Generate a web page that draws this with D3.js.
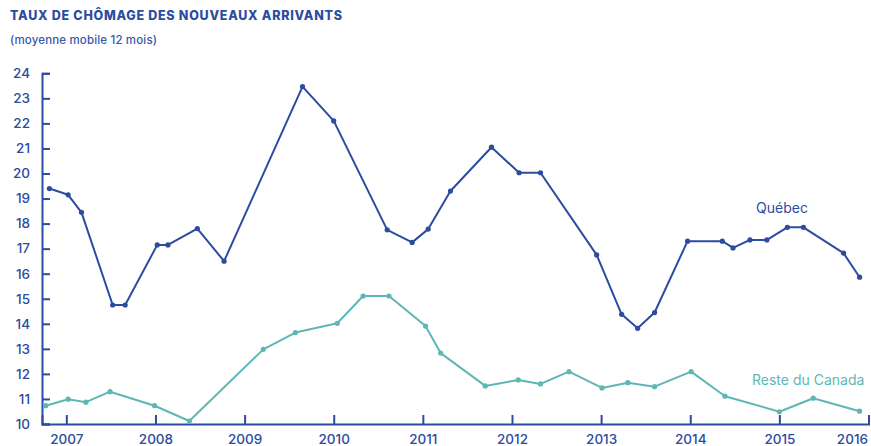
<!DOCTYPE html>
<html><head><meta charset="utf-8">
<script src="https://cdn.jsdelivr.net/npm/d3@7"></script>
<style>
html,body{margin:0;padding:0;background:#fff;}
svg{display:block;font-family:Inter,"Noto Sans",sans-serif;}
</style></head>
<body>
<svg id="chart" width="871" height="446"></svg>
<script>
const title = "TAUX DE CHÔMAGE DES NOUVEAUX ARRIVANTS";
const subtitle = "(moyenne mobile 12 mois)";
const yearTicks = [2007,2008,2009,2010,2011,2012,2013,2014,2015,2016];
const valueTicks = [10,11,12,13,14,15,16,17,18,19,20,21,22,23,24];

const quebecDates = [2006.81,2007.02,2007.17,2007.52,2007.66,2008.02,2008.14,2008.47,2008.77,2009.65,2010.0,2010.6,2010.88,2011.06,2011.31,2011.77,2012.08,2012.32,2012.95,2013.23,2013.41,2013.6,2013.97,2014.36,2014.48,2014.67,2014.86,2015.09,2015.27,2015.72,2015.9];
const quebecValues = [19.4,19.15,18.45,14.75,14.75,17.15,17.15,17.8,16.5,23.47,22.1,17.75,17.25,17.78,19.3,21.05,20.03,20.03,16.75,14.38,13.82,14.45,17.3,17.3,17.03,17.35,17.35,17.85,17.85,16.82,15.86];

const restDates = [2006.77,2007.02,2007.22,2007.49,2007.99,2008.38,2009.21,2009.57,2010.04,2010.33,2010.62,2011.03,2011.2,2011.7,2012.07,2012.32,2012.64,2013.01,2013.3,2013.6,2014.01,2014.39,2015.0,2015.38,2015.9];
const restValues = [10.73,10.99,10.87,11.29,10.73,10.12,12.98,13.65,14.02,15.11,15.11,13.91,12.83,11.52,11.76,11.6,12.09,11.44,11.65,11.49,12.09,11.11,10.49,11.03,10.51];

const seriesNames = ["Québec","Reste du Canada"];

const navy = "#2b4c9f";
const teal = "#5fb7b5";

const svg = d3.select("#chart");

const x = d3.scaleLinear().domain([2006.727, 2016]).range([42, 868.5]);
const y = d3.scaleLinear().domain([10, 24]).range([424, 73.3]);

svg.append("text").attr("x", 10).attr("y", 20)
  .attr("fill", navy).attr("font-size", 12.5).attr("font-weight", 800)
  .attr("textLength", 332).attr("lengthAdjust", "spacing")
  .text(title);
svg.append("text").attr("x", 10).attr("y", 44)
  .attr("fill", "#3557b0").attr("font-size", 11.5).attr("font-weight", 500)
  .attr("textLength", 147).attr("lengthAdjust", "spacing")
  .text(subtitle);

// Y axis
const yAxis = svg.append("g").attr("transform", "translate(42,0)")
  .call(d3.axisRight(y).tickValues(valueTicks).tickSize(8).tickFormat(d3.format("d")));
yAxis.select(".domain").attr("stroke", navy).attr("stroke-width", 2);
yAxis.selectAll(".tick line").attr("stroke", navy).attr("stroke-width", 2);
yAxis.selectAll(".tick text").attr("x", -12).attr("text-anchor", "end")
  .attr("fill", navy).attr("font-size", 13.5).attr("font-weight", 500)
  .attr("font-family", "Inter,sans-serif");

// X axis
const xAxis = svg.append("g").attr("transform", "translate(0,424)")
  .call(d3.axisTop(x).tickValues(yearTicks).tickSize(9).tickFormat(d3.format("d")));
xAxis.select(".domain").attr("stroke", navy).attr("stroke-width", 2);
xAxis.selectAll(".tick line").attr("stroke", navy).attr("stroke-width", 2);
xAxis.selectAll(".tick text")
  .attr("fill", navy).attr("font-size", 13.5).attr("font-weight", 500)
  .attr("font-family", "Inter,sans-serif")
  .attr("y", null).attr("dy", null)
  .attr("transform", "translate(0,20)")
  .filter(d => d === yearTicks[yearTicks.length - 1])
  .attr("text-anchor", "end").attr("x", -1);

function drawSeries(dates, values, color) {
  const data = dates.map((d, i) => ({ d, v: values[i] }));
  const line = d3.line().x(p => x(p.d)).y(p => y(p.v));
  svg.append("path").datum(data).attr("fill", "none").attr("stroke", color)
    .attr("stroke-width", 2).attr("stroke-linejoin", "round").attr("d", line);
  svg.append("g").selectAll("circle").data(data).join("circle")
    .attr("cx", p => x(p.d)).attr("cy", p => y(p.v)).attr("r", 2.6).attr("fill", color);
}
drawSeries(restDates, restValues, teal);
drawSeries(quebecDates, quebecValues, navy);

svg.append("text").attr("x", 756).attr("y", 213).attr("fill", navy)
  .attr("font-size", 14).attr("font-weight", 400).text(seriesNames[0]);
svg.append("text").attr("x", 752).attr("y", 385).attr("fill", teal)
  .attr("font-size", 14).attr("font-weight", 400).text(seriesNames[1]);
</script>
</body></html>
